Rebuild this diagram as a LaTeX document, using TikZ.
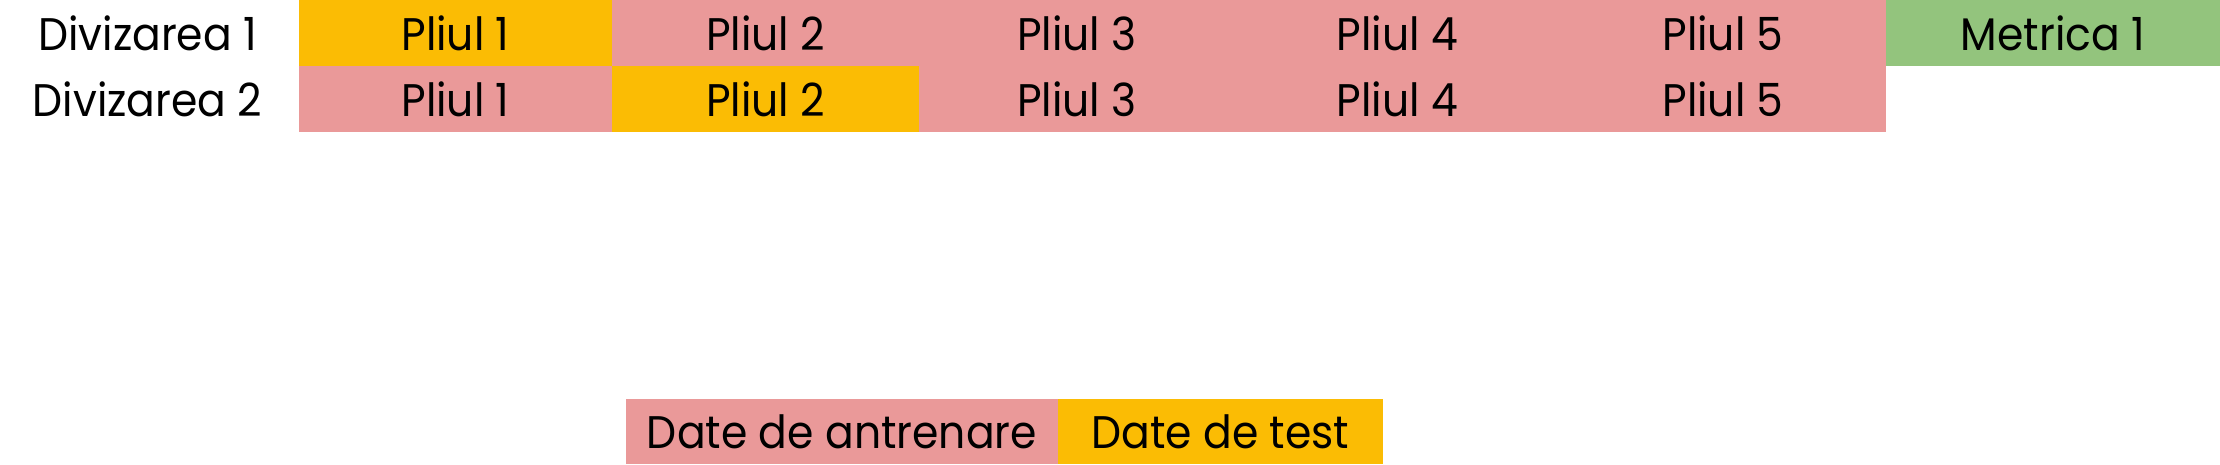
\documentclass[tikz,border=0pt]{standalone}
\usepackage{fontspec}
\setmainfont{Poppins}[FakeStretch=0.93]
\usetikzlibrary{positioning}
\definecolor{trainred}{HTML}{EA9999}
\definecolor{testyellow}{HTML}{FBBC04}
\definecolor{metricgreen}{HTML}{93C47D}

\begin{document}
\begin{tikzpicture}[node distance=0pt,
                    every node/.style=     {inner sep=0pt,outer sep=0pt,font=\fontsize{13}{15}\selectfont},
                    fold/.style=           {minimum height=0.66cm},
                    train fold/.style=     {fold,fill=trainred},
                    test fold/.style=      {fold,fill=testyellow},
                    metric fold/.style=    {fold,fill=metricgreen}]
      \useasboundingbox (0,0) rectangle (22.2,-4.64);
      % divizarea 1
      \node[test fold, minimum width=3.13cm, anchor=north west] (a1) at (2.99,0) {Pliul 1};
      \node[train fold, minimum width=3.07cm, right=of a1] (b1) {Pliul 2};
      \node[train fold, minimum width=3.16cm, right=of b1] (c1) {Pliul 3};
      \node[train fold, minimum width=3.25cm, right=of c1] (d1) {Pliul 4};
      \node[train fold, minimum width=3.26cm, right=of d1] (e1) {Pliul 5};
      \node[metric fold, minimum width=3.34cm, right=of e1] (m1) {Metrica 1};
      % divizarea 2
      \node[train fold, minimum width=3.13cm, below=of a1] (a2) {Pliul 1};
      \node[test fold, minimum width=3.07cm, right=of a2] (b2) {Pliul 2};
      \node[train fold, minimum width=3.16cm, right=of b2] (c2) {Pliul 3};
      \node[train fold, minimum width=3.25cm, right=of c2] (d2) {Pliul 4};
      \node[train fold, minimum width=3.26cm, right=of d2] (e2) {Pliul 5};
      \node[fold, left=0.42cm of a1] (s1) {Divizarea 1};
      \node[fold, below=of s1] (s2) {Divizarea 2};
      % legenda
      \node[train fold, minimum width=4.32cm, minimum height=0.65cm, anchor=north west] (train) at (6.26,-3.99) {Date de antrenare};
      \node[test fold, minimum width=3.25cm, minimum height=0.65cm, right=of train] (test) {Date de test};
\end{tikzpicture}
\end{document}
